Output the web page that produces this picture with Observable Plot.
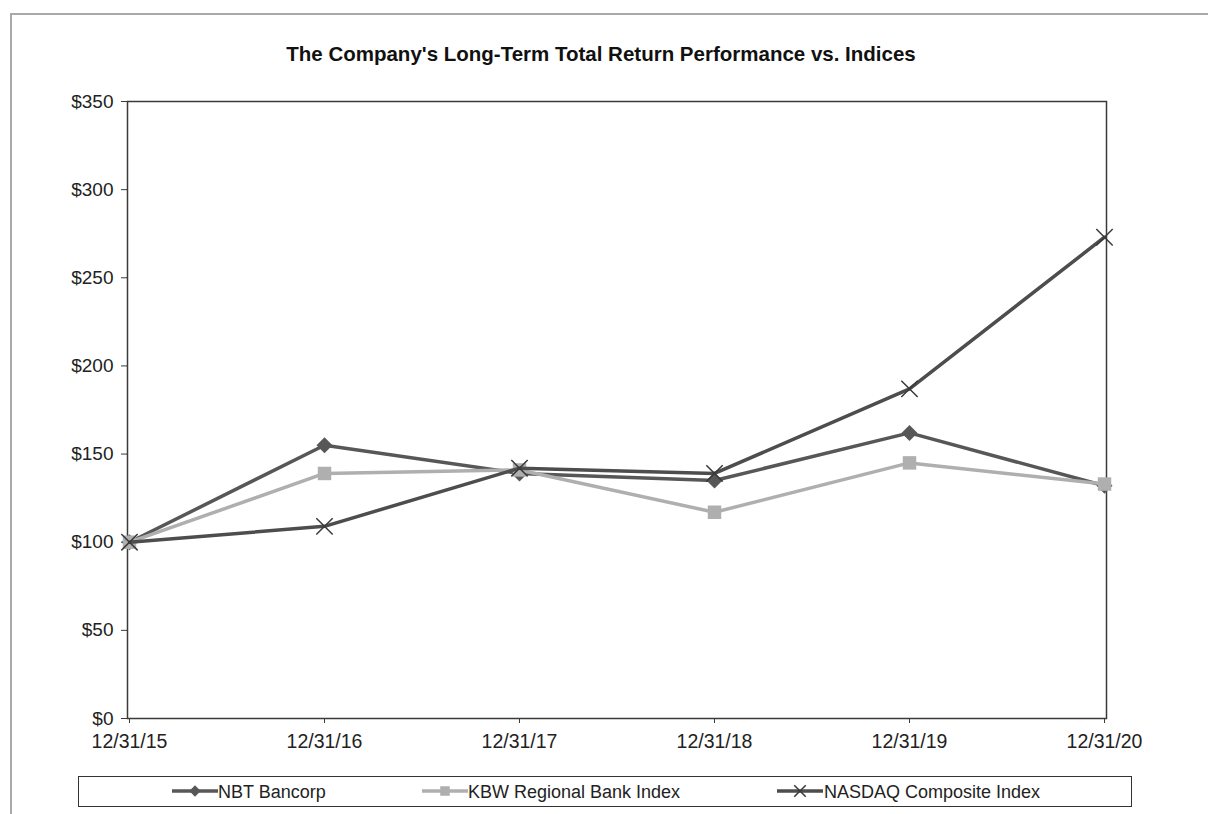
<!DOCTYPE html>
<html>
<head>
<meta charset="utf-8">
<script src="https://cdn.jsdelivr.net/npm/d3@7"></script>
<script src="https://cdn.jsdelivr.net/npm/@observablehq/plot@0.6"></script>
<style>
  html, body { margin: 0; padding: 0; background: #fff; }
  body { width: 1208px; height: 814px; position: relative; overflow: hidden; font-family: "Liberation Sans", Arial, sans-serif; }
  #border { position: absolute; left: 10px; top: 13px; width: 1210px; height: 820px; border-top: 2px solid #a9a9a9; border-left: 2px solid #a9a9a9; }
  #title { position: absolute; left: 0; top: 44px; width: 1202px; text-align: center; font-weight: bold; font-size: 20.5px; line-height: 20px; color: #111; }
  #chart { position: absolute; left: 0; top: 80px; }
  #legend { position: absolute; left: 78px; top: 776px; width: 1054px; height: 31px; box-sizing: border-box; border: 1.5px solid #333; }
  .lg { position: absolute; top: 783px; font-size: 18px; line-height: 18px; color: #222; white-space: nowrap; }
  .sw { position: absolute; top: 781px; }
</style>
</head>
<body>
<div id="border"></div>
<div id="title">The Company's Long-Term Total Return Performance vs. Indices</div>
<div id="chart"></div>
<div id="legend"></div>
<div id="legendItems"></div>
<script>
const dates = ["12/31/15", "12/31/16", "12/31/17", "12/31/18", "12/31/19", "12/31/20"];
const nbtValues = [100, 155, 139, 135, 162, 132];
const kbwValues = [100, 139, 141, 117, 145, 133];
const nasdaqValues = [100, 109, 142, 139, 187, 273];
const seriesNames = ["NBT Bancorp", "KBW Regional Bank Index", "NASDAQ Composite Index"];
const yTicks = [0, 50, 100, 150, 200, 250, 300, 350];

const seriesStyle = {
  "NBT Bancorp": {stroke: "#575757", symbol: "diamond2", fill: "#575757", markStroke: "none", r: 7.2, sw: 0},
  "KBW Regional Bank Index": {stroke: "#afafaf", symbol: "square", fill: "#afafaf", markStroke: "none", r: 7.6, sw: 0},
  "NASDAQ Composite Index": {stroke: "#4d4d4d", symbol: "times", fill: "none", markStroke: "#3a3a3a", r: 7.5, sw: 1.5}
};

const valueLists = [nbtValues, kbwValues, nasdaqValues];
const rows = [];
seriesNames.forEach((name, si) => {
  dates.forEach((d, i) => rows.push({series: name, date: d, value: valueLists[si][i]}));
});

const marks = [
  Plot.frame({stroke: "#3a3a3a", strokeWidth: 1.5}),
  Plot.axisY({ticks: yTicks, tickSize: 6, tickPadding: 8, tickFormat: d => "$" + d, fontSize: 19, stroke: "#3a3a3a"}),
  Plot.axisX({tickSize: 5, tickPadding: 11, fontSize: 19.5, stroke: "#3a3a3a"})
];
seriesNames.forEach(name => {
  const s = seriesStyle[name];
  const data = rows.filter(r => r.series === name);
  marks.push(Plot.line(data, {x: "date", y: "value", stroke: s.stroke, strokeWidth: 3.5, curve: "linear"}));
  marks.push(Plot.dot(data, {x: "date", y: "value", symbol: s.symbol, fill: s.fill, stroke: s.markStroke, strokeWidth: s.sw, r: s.r}));
});

const chart = Plot.plot({
  width: 1208,
  height: 680,
  marginLeft: 127,
  marginRight: 102,
  marginTop: 21,
  marginBottom: 42,
  style: {fontFamily: '"Liberation Sans", Arial, sans-serif', color: "#222", background: "transparent", overflow: "visible"},
  x: {type: "point", domain: dates, padding: 0, label: null},
  y: {domain: [0, 350], label: null},
  marks
});
document.getElementById("chart").appendChild(chart);

// legend
const legendPos = [
  {sw: 172, text: 218},
  {sw: 422, text: 468},
  {sw: 777, text: 824}
];
const container = document.getElementById("legendItems");
const symMap = {diamond2: d3.symbolDiamond2, square: d3.symbolSquare, times: d3.symbolTimes};
seriesNames.forEach((name, i) => {
  const s = seriesStyle[name];
  const svg = d3.create("svg").attr("class", "sw").attr("width", 46).attr("height", 20)
    .style("left", legendPos[i].sw + "px");
  svg.append("line").attr("x1", 0).attr("x2", 46).attr("y1", 10).attr("y2", 10)
    .attr("stroke", s.stroke).attr("stroke-width", 3.5);
  svg.append("path").attr("transform", "translate(23,10)")
    .attr("d", d3.symbol(symMap[s.symbol], Math.PI * s.r * s.r * 0.5)())
    .attr("fill", s.fill).attr("stroke", s.markStroke === "none" ? null : s.markStroke)
    .attr("stroke-width", s.sw);
  container.appendChild(svg.node());
  const t = document.createElement("div");
  t.className = "lg";
  t.style.left = legendPos[i].text + "px";
  t.textContent = name;
  container.appendChild(t);
});
</script>
</body>
</html>
